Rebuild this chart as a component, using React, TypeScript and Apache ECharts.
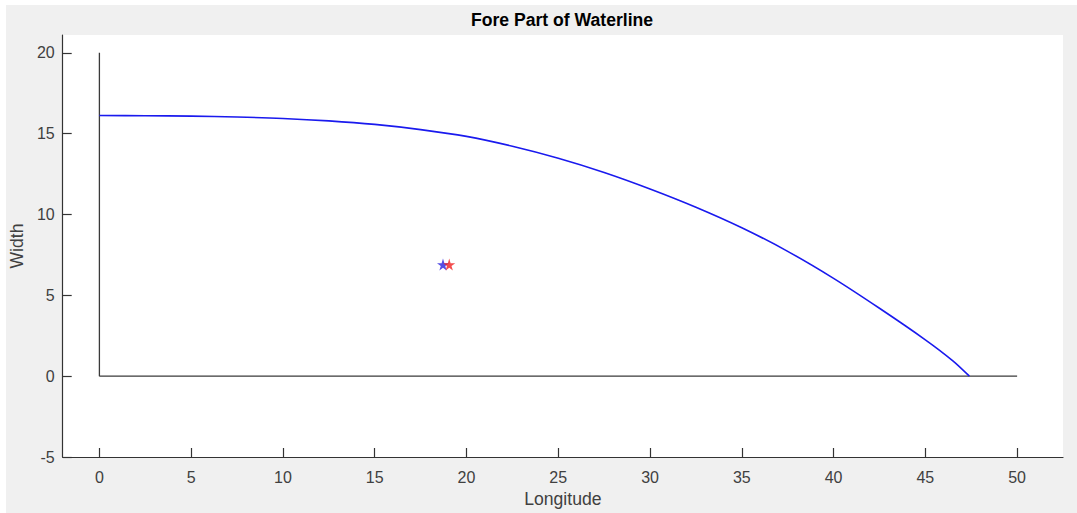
import React, { useEffect, useRef } from "react";
import * as echarts from "echarts";

// Waterline half-breadth curve (longitude, width)
const longitude = [0, 2.5, 5, 7.5, 10, 12.5, 15, 17.5, 20, 22.5, 25, 27.5, 30, 32.5, 35, 37.5, 40, 42.5, 45, 46.5, 47.4];
const halfWidth = [16.12, 16.11, 16.08, 16.03, 15.94, 15.79, 15.57, 15.25, 14.83, 14.22, 13.48, 12.6, 11.58, 10.45, 9.18, 7.72, 6.05, 4.2, 2.25, 0.95, 0];

// Reference frame lines
const verticalRef = [[0, 0], [0, 20]];
const horizontalRef = [[0, 0], [50, 0]];

// Centroid markers
const bluePoint = [18.72, 6.9];
const redPoint = [19.06, 6.9];

// Tick values
const xTicks = [0, 5, 10, 15, 20, 25, 30, 35, 40, 45, 50];
const yTicks = [-5, 0, 5, 10, 15, 20];

const STAR = "path://M50,0 L61,35 L98,35 L68,57 L79,91 L50,70 L21,91 L32,57 L2,35 L39,35 Z";
const FONT = "'Liberation Sans', Arial, Helvetica, sans-serif";
const AXIS_COLOR = "#333333";
const LABEL_COLOR = "#404040";

export default function App() {
  const ref = useRef<HTMLDivElement>(null);

  useEffect(() => {
    if (!ref.current) return;
    const chart = echarts.init(ref.current, undefined, { renderer: "svg" });
    const gridLeft = 61;
    const gridTop = 35;
    const gridWidth = 1002;
    const gridHeight = 427;

    chart.setOption({
      animation: false,
      backgroundColor: "#ffffff",
      textStyle: { fontFamily: FONT },
      title: {
        text: "Fore Part of Waterline",
        left: gridLeft + gridWidth / 2,
        textAlign: "center",
        top: 11,
        padding: 0,
        textStyle: { fontFamily: FONT, fontSize: 17.6, fontWeight: "bold", color: "#000000" },
      },
      graphic: [
        {
          type: "rect",
          z: -10,
          silent: true,
          shape: { x: 6, y: 5, width: 1071, height: 508 },
          style: { fill: "#f0f0f0" },
        },
      ],
      grid: {
        left: gridLeft,
        top: gridTop,
        width: gridWidth,
        height: gridHeight,
        show: true,
        backgroundColor: "#ffffff",
        borderWidth: 0,
      },
      xAxis: {
        type: "value",
        min: -2,
        max: 52.5,
        name: "Longitude",
        nameLocation: "middle",
        nameGap: 33,
        nameTextStyle: { fontFamily: FONT, fontSize: 17.6, color: LABEL_COLOR },
        axisLine: { show: true, onZero: false, lineStyle: { color: AXIS_COLOR, width: 1.2 } },
        axisTick: { show: true, inside: true, length: 9, customValues: xTicks, lineStyle: { color: AXIS_COLOR, width: 1.2 } },
        axisLabel: { customValues: xTicks, margin: 12, fontFamily: FONT, fontSize: 16, color: LABEL_COLOR },
        splitLine: { show: false },
      },
      yAxis: {
        type: "value",
        min: -5,
        max: 21.1,
        name: "Width",
        nameLocation: "middle",
        nameGap: 27,
        nameTextStyle: { fontFamily: FONT, fontSize: 17.6, color: LABEL_COLOR },
        axisLine: { show: true, onZero: false, lineStyle: { color: AXIS_COLOR, width: 1.2 } },
        axisTick: { show: true, inside: true, length: 9, customValues: yTicks, lineStyle: { color: AXIS_COLOR, width: 1.2 } },
        axisLabel: { customValues: yTicks, margin: 8, fontFamily: FONT, fontSize: 16, color: LABEL_COLOR },
        splitLine: { show: false },
      },
      series: [
        {
          type: "line",
          data: verticalRef,
          showSymbol: false,
          lineStyle: { color: "#3a3a3a", width: 1.3 },
          silent: true,
        },
        {
          type: "line",
          data: horizontalRef,
          showSymbol: false,
          lineStyle: { color: "#3a3a3a", width: 1.3 },
          silent: true,
        },
        {
          type: "line",
          data: longitude.map((x, i) => [x, halfWidth[i]]),
          showSymbol: false,
          smooth: 0.3,
          lineStyle: { color: "#1a1aee", width: 1.6 },
          silent: true,
        },
        {
          type: "scatter",
          data: [bluePoint],
          symbol: STAR,
          symbolSize: 12,
          itemStyle: { color: "#2a22dd" },
          silent: true,
        },
        {
          type: "scatter",
          data: [redPoint],
          symbol: STAR,
          symbolSize: 12,
          itemStyle: { color: "#f02020" },
          silent: true,
        },
      ],
    });

    return () => chart.dispose();
  }, []);

  return (
    <div
      ref={ref}
      style={{ position: "fixed", left: 0, top: 0, width: 1077, height: 513 }}
    />
  );
}
